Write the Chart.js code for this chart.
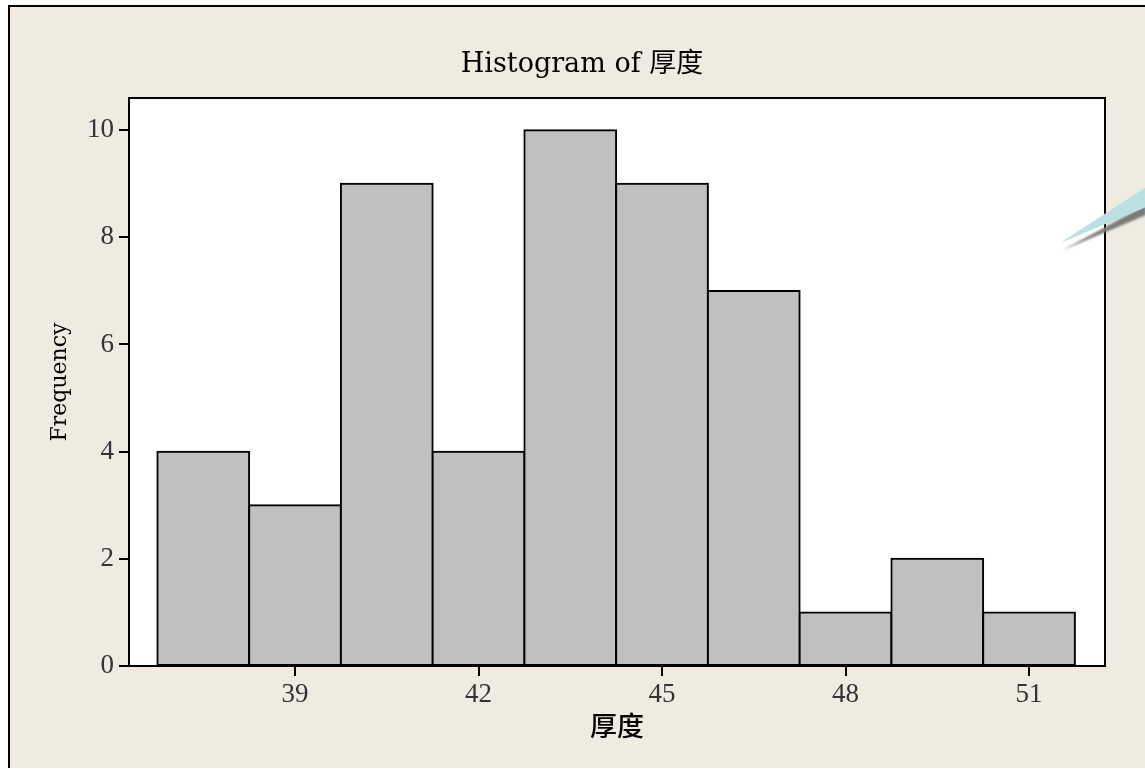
<!DOCTYPE html>
<html>
<head>
<meta charset="utf-8">
<script src="https://cdn.jsdelivr.net/npm/chart.js@4/dist/chart.umd.min.js"></script>
<style>
  html, body { margin: 0; padding: 0; background: #ffffff; overflow: hidden; }
  #wrap { width: 1145px; height: 769px; }
  canvas { display: block; }
</style>
</head>
<body>
<div id="wrap"><canvas id="hist" width="1145" height="769"></canvas></div>
<script>
// Histogram of 厚度: bin midpoints (bin width 1.5) and counts
const binCenters = [37.5, 39, 40.5, 42, 43.5, 45, 46.5, 48, 49.5, 51];
const frequencies = [4, 3, 9, 4, 10, 9, 7, 1, 2, 1];
const xTickValues = [39, 42, 45, 48, 51];
const yTickValues = [0, 2, 4, 6, 8, 10];
const chartTitle = 'Histogram of 厚度';
const xAxisTitle = '厚度';
const yAxisTitle = 'Frequency';

const serifLatin = '"Liberation Serif", "Noto Sans CJK TC", serif';
const serifWide = '"DejaVu Serif", "Noto Sans CJK TC", serif';

// Page background, outer frame, white plotting region and its box
const framePlugin = {
  id: 'frame',
  beforeDraw(chart) {
    const ctx = chart.ctx;
    const W = chart.width, H = chart.height;
    ctx.save();
    ctx.fillStyle = '#ffffff';
    ctx.fillRect(0, 0, W, H);
    ctx.fillStyle = '#efebe1';
    ctx.fillRect(9, 6, W - 9, H - 7);
    ctx.strokeStyle = '#000000';
    ctx.lineWidth = 2;
    ctx.beginPath();
    ctx.moveTo(9, H - 1);
    ctx.lineTo(9, 6);
    ctx.lineTo(W, 6);
    ctx.stroke();
    const a = chart.chartArea;
    ctx.fillStyle = '#ffffff';
    ctx.fillRect(a.left, a.top, a.right - a.left, a.bottom - a.top);
    ctx.restore();
  },
  afterDraw(chart) {
    const ctx = chart.ctx;
    const a = chart.chartArea;
    ctx.save();
    ctx.strokeStyle = '#000000';
    ctx.lineWidth = 2;
    ctx.strokeRect(a.left, a.top, a.right - a.left, a.bottom - a.top);
    // callout pointer entering from the right edge
    ctx.filter = 'blur(1px)';
    ctx.fillStyle = '#7a7a7a';
    ctx.beginPath();
    ctx.moveTo(1063, 250);
    ctx.lineTo(1146, 205);
    ctx.lineTo(1146, 215);
    ctx.closePath();
    ctx.fill();
    ctx.filter = 'none';
    ctx.fillStyle = '#bbe0e1';
    ctx.beginPath();
    ctx.moveTo(1060, 243);
    ctx.lineTo(1146, 187);
    ctx.lineTo(1146, 207);
    ctx.closePath();
    ctx.fill();
    ctx.restore();
  }
};

const points = binCenters.map((x, i) => ({ x: x, y: frequencies[i] }));

new Chart(document.getElementById('hist'), {
  type: 'bar',
  data: {
    datasets: [{
      data: points,
      backgroundColor: '#c0c0c0',
      borderColor: '#000000',
      borderWidth: 2,
      borderSkipped: false,
      inflateAmount: 1,
      barPercentage: 1,
      categoryPercentage: 1
    }]
  },
  options: {
    responsive: false,
    animation: false,
    devicePixelRatio: 1,
    layout: { padding: { left: 19, right: 0, top: 0, bottom: 0 } },
    plugins: {
      legend: { display: false },
      tooltip: { enabled: false },
      title: {
        display: true,
        text: chartTitle,
        color: '#000000',
        font: { family: serifWide, size: 27, weight: 'normal', lineHeight: 1 },
        padding: { top: 51, bottom: 20 }
      }
    },
    scales: {
      x: {
        type: 'linear',
        min: 36.286,
        max: 52.242,
        offset: false,
        afterBuildTicks(scale) { scale.ticks = xTickValues.map(v => ({ value: v })); },
        afterFit(scale) { scale.height = 103; },
        ticks: {
          color: '#333333',
          font: { family: serifLatin, size: 27, lineHeight: 1 },
          padding: 5,
          maxRotation: 0,
          autoSkip: false,
          callback: v => String(v)
        },
        grid: { display: true, offset: false, drawOnChartArea: false, drawTicks: true, tickLength: 10, color: '#000000', lineWidth: 2 },
        border: { display: true, color: '#000000', width: 2 },
        title: {
          display: true,
          text: xAxisTitle,
          color: '#000000',
          font: { family: serifWide, size: 27, weight: '500', lineHeight: 1 },
          padding: { top: 0, bottom: 27 }
        }
      },
      y: {
        type: 'linear',
        position: 'left',
        min: 0,
        max: 10.6,
        afterBuildTicks(scale) { scale.ticks = yTickValues.map(v => ({ value: v })); },
        afterFit(scale) { scale.width = 110; },
        ticks: {
          color: '#333333',
          font: { family: serifLatin, size: 27, lineHeight: 1 },
          padding: 5,
          callback: v => String(v)
        },
        grid: { display: true, drawOnChartArea: false, drawTicks: true, tickLength: 10, color: '#000000', lineWidth: 2 },
        border: { display: true, color: '#000000', width: 2 },
        title: {
          display: true,
          text: yAxisTitle,
          color: '#000000',
          font: { family: serifWide, size: 22, lineHeight: 1 },
          padding: { top: 30, bottom: 0 }
        }
      },
      spacer: {
        type: 'linear',
        position: 'right',
        display: true,
        afterFit(scale) { scale.width = 40; },
        ticks: { display: false },
        grid: { display: false },
        border: { display: false },
        title: { display: false }
      }
    }
  },
  plugins: [framePlugin]
});
</script>
</body>
</html>
